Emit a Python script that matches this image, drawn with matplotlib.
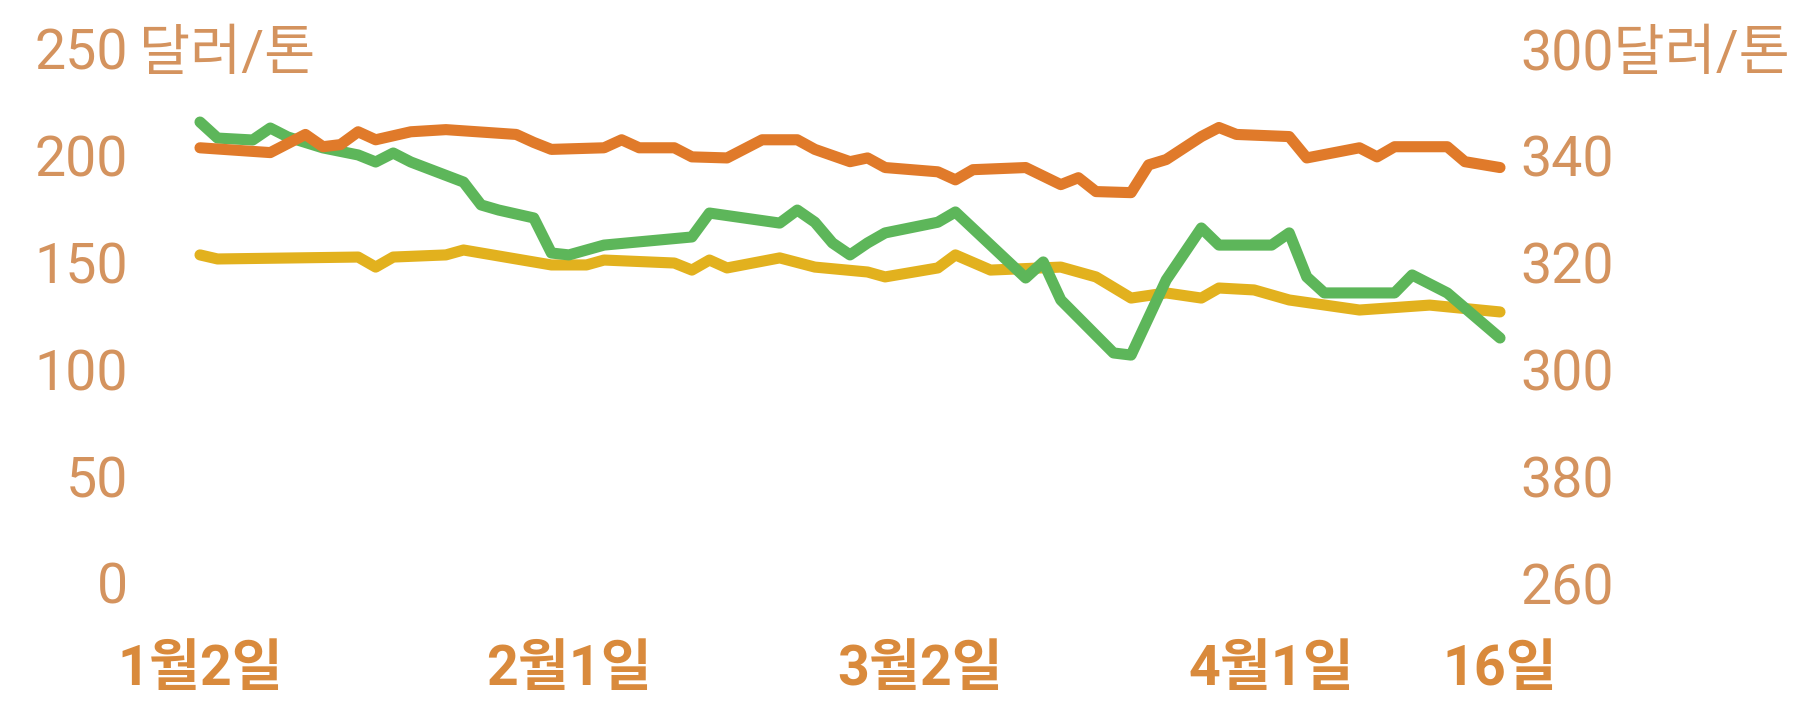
import matplotlib
matplotlib.use("Agg")
import matplotlib.pyplot as plt

plt.rcParams['font.family'] = ['Roboto', 'Noto Sans CJK KR', 'DejaVu Sans']

# ---- data (trading-day index from Jan 2) ----
x_tick_days = [0, 21, 41, 61, 74]
x_tick_labels = ['1월2일', '2월1일', '3월2일', '4월1일', '16일']

left_ticks = [0, 50, 100, 150, 200, 250]
left_tick_labels = ['0', '50', '100', '150', '200', '250']
right_ticks = [260, 280, 300, 320, 340, 360]
right_tick_labels = ['260', '380', '300', '320', '340', '300달러/톤']
unit_label = '달러/톤'

# orange series (right axis)
orange_days = [0, 4, 6, 7, 8, 9, 10, 12, 14, 18, 19, 20, 23, 24, 25, 27, 28, 30, 32, 34,
               35, 37, 38, 39, 42, 43, 44, 47, 49, 50, 51, 53, 54, 55, 57, 58, 59, 62, 63, 66,
               67, 68, 71, 72, 74]
orange_vals = [341.5, 340.6, 344.0, 341.7, 342.1, 344.5, 343.0, 344.5, 344.9, 344.0,
               342.5, 341.2, 341.5, 343.0, 341.5, 341.5, 339.8, 339.6, 343.0, 343.0,
               341.2, 338.9, 339.6, 337.8, 337.0, 335.5, 337.4, 337.8, 334.6, 335.9,
               333.3, 333.1, 338.3, 339.3, 343.6, 345.3, 344.0, 343.6, 339.6, 341.5,
               339.8, 341.7, 341.7, 338.9, 337.8]

# green series (left axis)
green_days = [0, 1, 3, 4, 5, 7, 9, 10, 11, 12, 15, 16, 17, 19, 20, 21, 23, 28, 29, 33,
              34, 35, 36, 37, 38, 39, 42, 43, 47, 48, 49, 52, 53, 55, 57, 58, 61, 62, 63, 64,
              68, 69, 71, 74]
green_vals = [215.8, 208.3, 207.4, 213.0, 208.8, 203.7, 200.4, 197.1, 201.3, 197.1,
              187.7, 177.0, 174.6, 170.9, 154.5, 153.6, 158.2, 162.0, 173.2, 168.5,
              174.6, 168.9, 159.2, 153.6, 159.2, 163.9, 168.9, 173.7, 142.8, 150.3,
              132.5, 107.7, 106.7, 141.9, 166.2, 158.2, 158.2, 163.9, 143.3, 135.8,
              135.8, 144.2, 135.8, 114.7]

# yellow series (left axis)
yellow_days = [0, 1, 9, 10, 11, 14, 15, 18, 20, 22, 23, 27, 28, 29, 30, 33, 35, 38, 39, 42,
               43, 45, 49, 51, 53, 55, 57, 58, 60, 62, 66, 70, 74]
yellow_vals = [153.6, 151.7, 152.6, 147.9, 152.6, 153.6, 155.9, 151.7, 148.9, 148.9,
               151.2, 149.8, 146.5, 151.2, 147.5, 152.2, 147.9, 145.6, 143.3, 147.5,
               153.6, 146.5, 147.9, 143.3, 133.4, 135.8, 133.4, 138.1, 137.2, 132.5,
               127.8, 130.1, 126.9]

# ---- styling ----
W, H = 1820, 701
fig = plt.figure(figsize=(W / 100, H / 100), dpi=100)
fig.patch.set_facecolor('white')

ax_left_px, ax_right_px = 200, 1500
ax_bottom_px, ax_top_px = 583, 49
ax = fig.add_axes([ax_left_px / W, (H - ax_bottom_px) / H,
                   (ax_right_px - ax_left_px) / W, (ax_bottom_px - ax_top_px) / H])
ax2 = ax.twinx()

tick_color = '#D4935E'
xlab_color = '#D98A3C'
c_orange = '#E07A2A'
c_green = '#5DB65A'
c_yellow = '#E2B11E'
lw = 8

ax.plot(yellow_days, yellow_vals, color=c_yellow, lw=lw, solid_joinstyle='round',
        solid_capstyle='round', clip_on=False)
ax.plot(green_days, green_vals, color=c_green, lw=lw, solid_joinstyle='round',
        solid_capstyle='round', clip_on=False)
ax2.plot(orange_days, orange_vals, color=c_orange, lw=lw, solid_joinstyle='round',
         solid_capstyle='round', clip_on=False)

ax.set_xlim(0, 74)
ax.set_ylim(0, 250)
ax2.set_ylim(260, 360)

for a in (ax, ax2):
    for s in a.spines.values():
        s.set_visible(False)
    a.set_facecolor('none')

ax.set_yticks(left_ticks)
ax.set_yticklabels(left_tick_labels)
ax2.set_yticks(right_ticks)
ax2.set_yticklabels(right_tick_labels)
ax.set_xticks(x_tick_days)
ax.set_xticklabels(x_tick_labels)

ax.tick_params(axis='y', length=0, pad=52, labelsize=40, labelcolor=tick_color)
ax2.tick_params(axis='y', length=0, pad=15, labelsize=40, labelcolor=tick_color)
ax.tick_params(axis='x', length=0, pad=44, labelsize=40, labelcolor=xlab_color)
for t in ax.get_xticklabels():
    t.set_fontweight('bold')

# unit after the top left tick label
fig.text(139 / W, (H - 49) / H, unit_label, color=tick_color, fontsize=40,
         ha='left', va='center_baseline')

fig.savefig('out.png', dpi=100, facecolor='white')
